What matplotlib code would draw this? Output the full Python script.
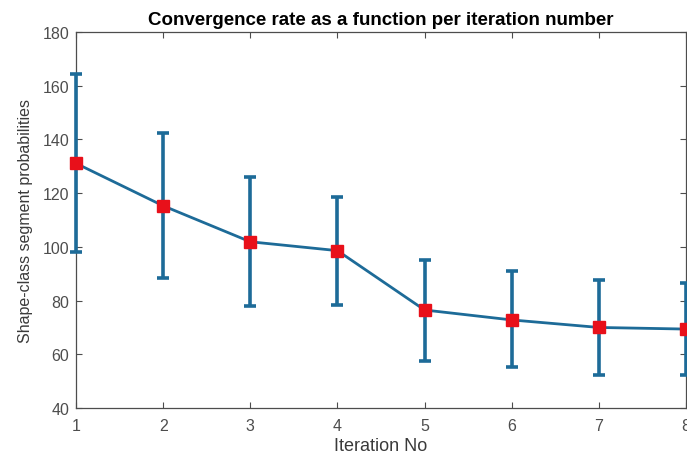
import matplotlib
matplotlib.use("Agg")
import matplotlib.pyplot as plt
import numpy as np

plt.rcParams["font.family"] = ["Liberation Sans", "DejaVu Sans"]

BLUE, RED, AXC = "#1d6b98", "#e8101a", "#4d4d4d"

iteration = [1, 2, 3, 4, 5, 6, 7, 8]
prob_mean = [131.1, 115.3, 101.9, 98.6, 76.5, 72.8, 70.0, 69.4]
prob_upper = [164.2, 142.3, 126.1, 118.7, 95.0, 91.0, 87.7, 86.6]
prob_lower = [98.0, 88.4, 78.1, 78.5, 57.6, 55.4, 52.4, 52.4]

mean = np.array(prob_mean)
yerr = [mean - np.array(prob_lower), np.array(prob_upper) - mean]

fig = plt.figure(figsize=(6.87, 4.56), dpi=100)
ax = fig.add_axes([0.1106, 0.103, 0.888, 0.8246])
ax.errorbar(iteration, prob_mean, yerr=yerr, color=BLUE, lw=2.0,
            elinewidth=2.6, capsize=4, capthick=2.6,
            marker="s", ms=8, mfc=RED, mec=RED, zorder=3, clip_on=False)

ax.set_xlim(1, 8)
ax.set_ylim(40, 180)
ax.set_xticks(range(1, 9))
ax.set_yticks(range(40, 181, 20))
ax.tick_params(direction="in", top=True, right=True, length=4,
               colors=AXC, labelsize=11.5, pad=5)
ax.tick_params(axis="x", pad=7)
for s in ax.spines.values():
    s.set_color(AXC)
    s.set_linewidth(0.9)
ax.set_title("Convergence rate as a function per iteration number",
             fontsize=13.5, fontweight="bold", pad=6)
ax.set_xlabel("Iteration No", fontsize=13, color="#3a3a3a", labelpad=3)
ax.set_ylabel("Shape-class segment probabilities", fontsize=11.5,
              color="#3a3a3a", labelpad=7)

fig.savefig("out.png", dpi=100)
